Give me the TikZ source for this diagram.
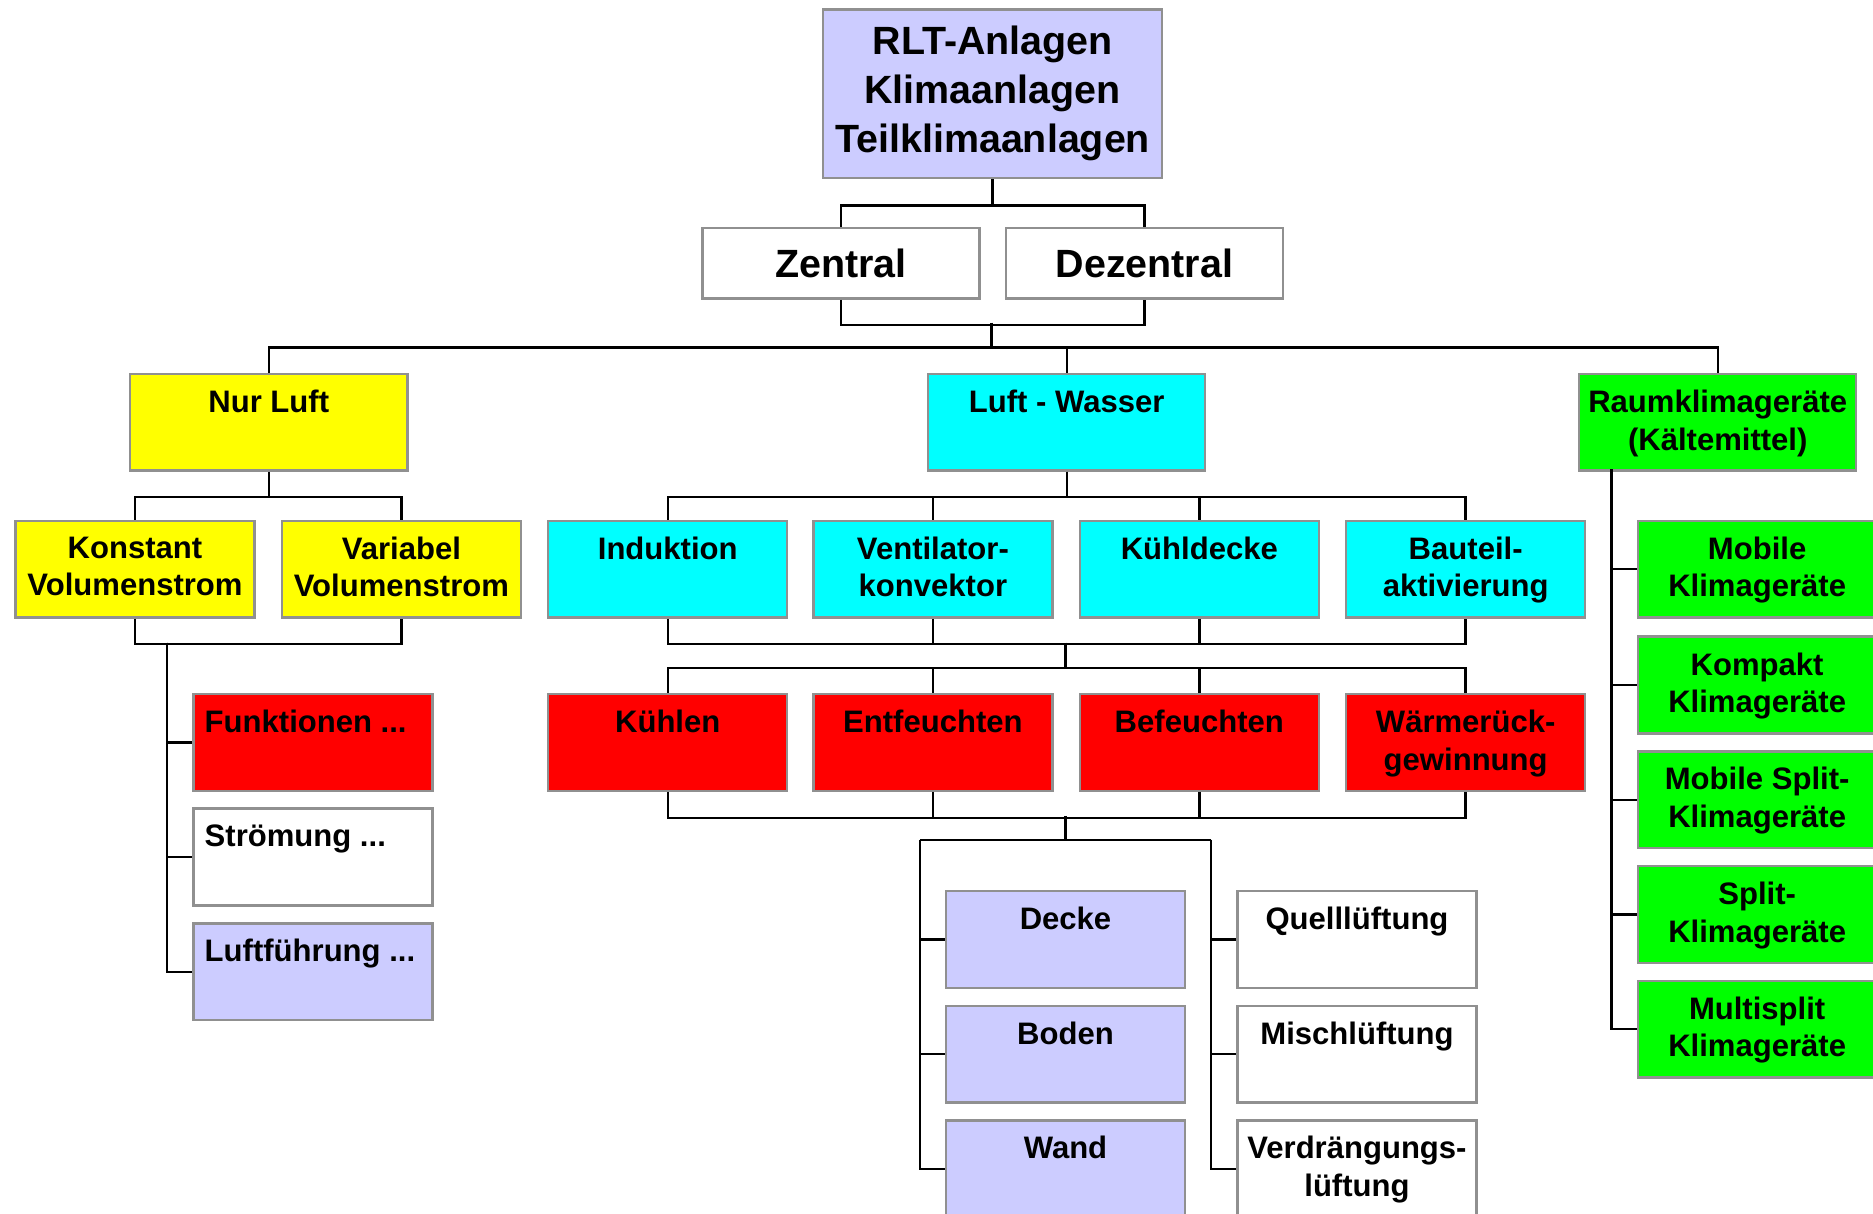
\documentclass[tikz,border=0pt]{standalone}
\usepackage{fontspec}
\setmainfont{Liberation Sans}
\definecolor{lav}{HTML}{CCCCFF}
\definecolor{gelb}{HTML}{FFFF00}
\definecolor{cyan}{HTML}{00FFFF}
\definecolor{rot}{HTML}{FF0000}
\definecolor{gruen}{HTML}{00FF00}
\definecolor{edge}{HTML}{909090}
\tikzset{box/.style={draw=edge, line width=1pt, fill=#1, anchor=north west, inner sep=0pt, minimum width=100pt, minimum height=40.5pt}}
\tikzset{box/.default=white}
\tikzset{wide/.style={minimum width=116pt}}
\tikzset{txt/.style={anchor=north, align=center, inner sep=0pt, yshift=-7pt, font=\bfseries\fontsize{13}{15.75}\selectfont}}
\tikzset{txtl/.style={anchor=north west, align=left, inner sep=0pt, xshift=5pt, yshift=-7pt, font=\bfseries\fontsize{13}{15.75}\selectfont}}
\tikzset{wire/.style={line width=1pt, black}}

\begin{document}
\begin{tikzpicture}[x=0.5pt, y=-0.5pt]
            \useasboundingbox (0,0) rectangle (1568,1016);
            \clip (0,0) rectangle (1568,1016);
            % top
            \node[box=lav, minimum width=142pt, minimum height=70.5pt, align=center, font=\bfseries\fontsize{16.5}{20.5}\selectfont] (top) at (688,7) {RLT-Anlagen\\Klimaanlagen\\Teilklimaanlagen};
            \node[box, wide, minimum height=29.5pt, font=\bfseries\fontsize{16.5}{20.5}\selectfont] (zen) at (587,190) {Zentral};
            \node[box, wide, minimum height=29.5pt, font=\bfseries\fontsize{16.5}{20.5}\selectfont] (dez) at (841,190) {Dezentral};
            % second level
            \node[box=gelb, wide, label={[txt]north:Nur Luft}] (nurluft) at (108,312) {};
            \node[box=cyan, wide, label={[txt]north:Luft - Wasser}] (luftw) at (776,312) {};
            \node[box=gruen, wide, label={[txt]north:{Raumklimageräte\\(Kältemittel)}}] (raum) at (1321,312) {};
            % nur luft
            \node[box=gelb, label={[txt]north:{Konstant\\Volumenstrom}}] (konst) at (12,435) {};
            \node[box=gelb, label={[txt]north:{Variabel\\Volumenstrom}}] (var) at (235,435) {};
            \node[box=rot, label={[txtl]north west:Funktionen ...}] (funk) at (161,580) {};
            \node[box, label={[txtl]north west:Strömung ...}] (stroem) at (161,676) {};
            \node[box=lav, label={[txtl]north west:Luftführung ...}] (lfuehr) at (161,772) {};
            % luft - wasser
            \node[box=cyan, label={[txt]north:Induktion}] (ind) at (458,435) {};
            \node[box=cyan, label={[txt]north:{Ventilator-\\konvektor}}] (vent) at (680,435) {};
            \node[box=cyan, label={[txt]north:Kühldecke}] (kdecke) at (903,435) {};
            \node[box=cyan, label={[txt]north:{Bauteil-\\aktivierung}}] (baut) at (1126,435) {};
            \node[box=rot, label={[txt]north:Kühlen}] (kuehl) at (458,580) {};
            \node[box=rot, label={[txt]north:Entfeuchten}] (entf) at (680,580) {};
            \node[box=rot, label={[txt]north:Befeuchten}] (bef) at (903,580) {};
            \node[box=rot, label={[txt]north:{Wärmerück-\\gewinnung}}] (wrg) at (1126,580) {};
            \node[box=lav, label={[txt]north:Decke}] (decke) at (791,745) {};
            \node[box=lav, label={[txt]north:Boden}] (boden) at (791,841) {};
            \node[box=lav, label={[txt]north:Wand}] (wand) at (791,937) {};
            \node[box, label={[txt]north:Quelllüftung}] (quell) at (1035,745) {};
            \node[box, label={[txt]north:Mischlüftung}] (misch) at (1035,841) {};
            \node[box, label={[txt]north:{Verdrängungs-\\lüftung}}] (verdr) at (1035,937) {};
            % raumklimageraete
            \node[box=gruen, label={[txt]north:{Mobile\\Klimageräte}}] (mob) at (1370,435) {};
            \node[box=gruen, label={[txt]north:{Kompakt\\Klimageräte}}] (komp) at (1370,532) {};
            \node[box=gruen, label={[txt]north:{Mobile Split-\\Klimageräte}}] (msplit) at (1370,628) {};
            \node[box=gruen, label={[txt]north:{Split-\\Klimageräte}}] (split) at (1370,724) {};
            \node[box=gruen, label={[txt]north:{Multisplit\\Klimageräte}}] (multi) at (1370,820) {};
            % connectors
            \coordinate (j1) at (830,270);
            \coordinate (j2) at (830,291);
            \coordinate (j3) at (140,538);
            \coordinate (j4) at (892,538);
            \coordinate (j5) at (892,559);
            \coordinate (j6) at (892,683);
            \coordinate (j7) at (892,703);
            \coordinate (j8) at (770,703);
            \coordinate (j9) at (1014,703);
            \coordinate (j10) at (1349,393);
            \draw[wire] (top.south) -- ++(0,22) -| (zen.north);
            \draw[wire] (top.south) -- ++(0,22) -| (dez.north);
            \draw[wire] (zen.south) -- ++(0,21) -| (dez.south);
            \draw[wire] (j1) -- (j2);
            \foreach \n in {nurluft,luftw,raum} {
                \draw[wire] (j2) -| (\n.north);
            }
            \draw[wire] (nurluft.south) -- ++(0,21) -| (konst.north);
            \draw[wire] (nurluft.south) -- ++(0,21) -| (var.north);
            \draw[wire] (konst.south) -- ++(0,21) -| (var.south);
            \foreach \n in {funk,stroem,lfuehr} {
                \draw[wire] (j3) |- (\n.west);
            }
            \foreach \n in {ind,vent,kdecke,baut} {
                \draw[wire] (luftw.south) -- ++(0,21) -| (\n.north);
            }
            \foreach \n in {ind,vent,kdecke} {
                \draw[wire] (\n.south) -- ++(0,21) -| (baut.south);
            }
            \draw[wire] (j4) -- (j5);
            \foreach \n in {kuehl,entf,bef,wrg} {
                \draw[wire] (j5) -| (\n.north);
            }
            \foreach \n in {kuehl,entf,bef} {
                \draw[wire] (\n.south) -- ++(0,22) -| (wrg.south);
            }
            \draw[wire] (j6) -- (j7);
            \draw[wire] (j8) -- (j9);
            \foreach \n in {decke,boden,wand} {
                \draw[wire] (j8) |- (\n.west);
            }
            \foreach \n in {quell,misch,verdr} {
                \draw[wire] (j9) |- (\n.west);
            }
            \foreach \n in {mob,komp,msplit,split,multi} {
                \draw[wire] (j10) |- (\n.west);
            }
        \end{tikzpicture}
\end{document}
